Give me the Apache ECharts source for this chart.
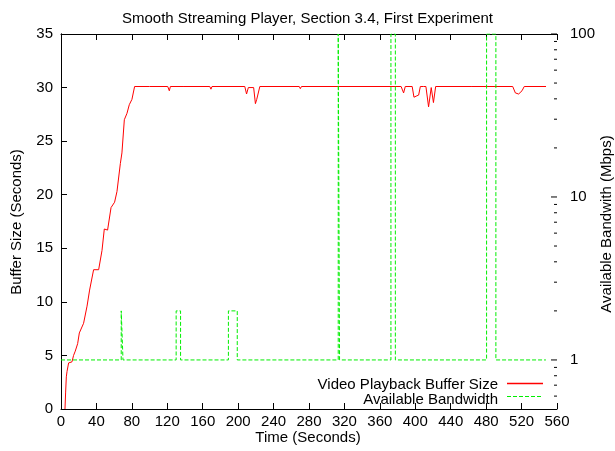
<!DOCTYPE html>
<html>
<head>
<meta charset="utf-8">
<script src="https://cdn.jsdelivr.net/npm/echarts@6/dist/echarts.min.js"></script>
<style>
  html, body { margin: 0; padding: 0; background: #ffffff; }
  #chart { width: 615px; height: 451px; }
</style>
</head>
<body>
<div id="chart"></div>
<script>
// Axis ranges
const timeMin = 0, timeMax = 560, timeStep = 40;
const bufferMin = 0, bufferMax = 35, bufferStep = 5;
const bandwidthMin = 0.5, bandwidthMax = 100;
const bandwidthLabels = [1, 10, 100];
const bandwidthTicks = [0.6, 0.7, 0.8, 0.9, 1, 2, 3, 4, 5, 6, 7, 8, 9, 10,
                        20, 30, 40, 50, 60, 70, 80, 90, 100];

// Video playback buffer size (seconds) over time (seconds)
const bufferTime = [4.5, 5.2, 6.0, 6.8, 8.6, 9.4, 12.4, 14.2, 16.1, 18.8, 20.7, 22.6,
  25.5, 29.4, 32.3, 36.8, 42.5, 46.3, 48.9, 52.6, 56.5, 60.5, 63.2, 67.0, 68.8,
  71.5, 74.5, 77.1, 80.1, 83.1, 100, 120.5, 122.3, 123.5, 135.5, 136.6, 137.8,
  168, 169.3, 170.5, 207.5, 209.5, 211.5, 213, 217.5, 219.5, 221, 222.5, 224.5,
  269, 270.2, 271.5, 384, 386.8, 388.7, 396.5, 398.5, 401, 403.8, 405.7, 409.4,
  412, 415, 418, 420.5, 423, 463, 464, 465, 510, 513, 516.7, 520.5, 523, 547.6];
const bufferSeconds = [0, 1.5, 3.0, 3.5, 4.3, 4.4, 4.4, 5.0, 5.4, 6.1, 7.1, 7.1,
  8.0, 9.6, 11.1, 13.0, 13.0, 14.8, 16.8, 16.7, 18.8, 19.3, 20.3, 22.9, 23.9,
  27.0, 27.6, 28.4, 28.9, 30.1, 30.1, 30.1, 29.7, 30.1, 30.1, 30.2, 30.1,
  30.1, 29.85, 30.1, 30.1, 29.4, 30.0, 30.0, 30.0, 28.5, 28.9, 28.8, 30.1,
  30.1, 29.9, 30.1, 30.1, 29.5, 30.1, 30.1, 29.1, 29.2, 29.3, 30.1, 30.1,
  30.1, 28.2, 30.0, 28.6, 30.1, 30.1, 30.0, 30.1, 30.1, 29.5, 29.4, 29.7, 30.1, 30.1];

// Available bandwidth (Mbps), drawn as a step trace
const bandwidthTime = [0, 68, 68, 70, 70, 130, 130, 135, 135, 189, 189, 199, 199,
  313, 313, 314.5, 314.5, 372.5, 372.5, 377.5, 377.5, 480.5, 480.5, 491, 491, 547.5];
const bandwidthMbps = [1, 1, 2, 2, 1, 1, 2, 2, 1, 1, 2, 2, 1,
  1, 100, 100, 1, 1, 100, 100, 1, 1, 100, 100, 1, 1];

const seriesNames = ['Video Playback Buffer Size', 'Available Bandwidth'];

const FONT = 'Liberation Sans';
const TXT = { color: '#000000', fontFamily: FONT, fontSize: 15 };
const RED = '#ff0000', GREEN = '#00ee00';
const DASH = [4, 2];

// legend box placement (pixels)
const LEGEND_RIGHT = 72, LEGEND_TOP = 377, KEY_W = 36, ROW_H = 13, CHART_W = 615;

const zip = (a, b) => a.map((v, i) => [v, b[i]]);
const isPow10 = v => Math.abs(Math.log10(v) - Math.round(Math.log10(v))) < 1e-6;

const chart = echarts.init(document.getElementById('chart'), null, { renderer: 'canvas' });

const axisLine = { show: true, lineStyle: { color: '#000000', width: 1 } };

// legend sample strokes, drawn to the right of the legend text
const keyX2 = CHART_W - LEGEND_RIGHT, keyX1 = keyX2 - KEY_W;
const keyStyles = [
  { stroke: RED, lineWidth: 1.5 },
  { stroke: GREEN, lineWidth: 1, lineDash: DASH }
];
const legendKeys = keyStyles.map((st, i) => {
  const y = LEGEND_TOP + ROW_H * i + ROW_H / 2;
  return { type: 'line', silent: true, z: 10, shape: { x1: keyX1, y1: y, x2: keyX2, y2: y }, style: st };
});

chart.setOption({
  animation: false,
  backgroundColor: '#ffffff',
  title: {
    text: 'Smooth Streaming Player, Section 3.4, First Experiment',
    left: 'center',
    top: 6,
    textStyle: Object.assign({ fontWeight: 'normal' }, TXT)
  },
  grid: { left: 61, right: 58, top: 34, bottom: 42, outerBoundsMode: 'none' },
  legend: {
    data: seriesNames,
    orient: 'vertical',
    align: 'right',
    right: LEGEND_RIGHT,
    top: LEGEND_TOP,
    itemWidth: KEY_W,
    itemHeight: 12,
    itemGap: 0,
    padding: 0,
    selectedMode: false,
    itemStyle: { opacity: 0 },
    lineStyle: { opacity: 0 },
    textStyle: Object.assign({ lineHeight: ROW_H, padding: [0, 3, 0, 0] }, TXT)
  },
  xAxis: [
    {
      type: 'value', position: 'bottom', min: timeMin, max: timeMax, interval: timeStep,
      axisLine: axisLine,
      axisTick: { show: true, inside: true, length: 6, lineStyle: { color: '#000' } },
      axisLabel: Object.assign({ margin: 5 }, TXT),
      splitLine: { show: false }
    },
    {
      type: 'value', position: 'top', min: timeMin, max: timeMax, interval: timeStep,
      axisLine: axisLine,
      axisTick: { show: true, inside: true, length: 6, lineStyle: { color: '#000' } },
      axisLabel: { show: false },
      splitLine: { show: false }
    }
  ],
  yAxis: [
    {
      type: 'value', position: 'left', min: bufferMin, max: bufferMax, interval: bufferStep,
      axisLine: axisLine,
      axisTick: { show: true, inside: true, length: 6, lineStyle: { color: '#000' } },
      axisLabel: Object.assign({ margin: 8 }, TXT),
      splitLine: { show: false }
    },
    {
      type: 'log', logBase: 10, position: 'right', min: bandwidthMin, max: bandwidthMax,
      axisLine: axisLine,
      axisTick: { show: false },
      minorTick: { show: false },
      axisLabel: Object.assign({
        margin: 13,
        formatter: v => (isPow10(v) && bandwidthLabels.indexOf(Math.round(v)) >= 0) ? String(Math.round(v)) : ''
      }, TXT),
      splitLine: { show: false }
    }
  ],
  graphic: [
    {
      type: 'text', x: 17, y: 222, rotation: Math.PI / 2,
      style: { text: 'Buffer Size (Seconds)', textAlign: 'center', textVerticalAlign: 'middle', fill: '#000', font: '15px "' + FONT + '"' }
    },
    {
      type: 'text', x: 607, y: 224, rotation: Math.PI / 2,
      style: { text: 'Available Bandwith (Mbps)', textAlign: 'center', textVerticalAlign: 'middle', fill: '#000', font: '15px "' + FONT + '"' }
    },
    {
      type: 'text', x: 308, y: 438,
      style: { text: 'Time (Seconds)', textAlign: 'center', textVerticalAlign: 'middle', fill: '#000', font: '15px "' + FONT + '"' }
    }
  ].concat(legendKeys),
  series: [
    {
      name: seriesNames[0], type: 'line', xAxisIndex: 0, yAxisIndex: 0,
      data: zip(bufferTime, bufferSeconds),
      symbol: 'none', showSymbol: false,
      lineStyle: { color: RED, width: 1 },
      itemStyle: { color: RED },
      z: 2
    },
    {
      name: seriesNames[1], type: 'line', xAxisIndex: 0, yAxisIndex: 1,
      data: zip(bandwidthTime, bandwidthMbps),
      symbol: 'none', showSymbol: false,
      lineStyle: { color: GREEN, width: 1, type: DASH },
      itemStyle: { color: GREEN },
      z: 3
    },
    {
      // log-scale tick marks along the right axis (major at decades, minor between)
      type: 'custom', xAxisIndex: 0, yAxisIndex: 1, silent: true, clip: false,
      data: bandwidthTicks.map(v => [timeMax, v]),
      renderItem: function (params, api) {
        const v = api.value(1);
        const p = api.coord([api.value(0), v]);
        const len = isPow10(v) ? 6 : 3;
        return {
          type: 'line',
          shape: { x1: p[0] - len, y1: p[1], x2: p[0], y2: p[1] },
          style: { stroke: '#000000', lineWidth: 1 }
        };
      },
      z: 4
    }
  ]
});
</script>
</body>
</html>
